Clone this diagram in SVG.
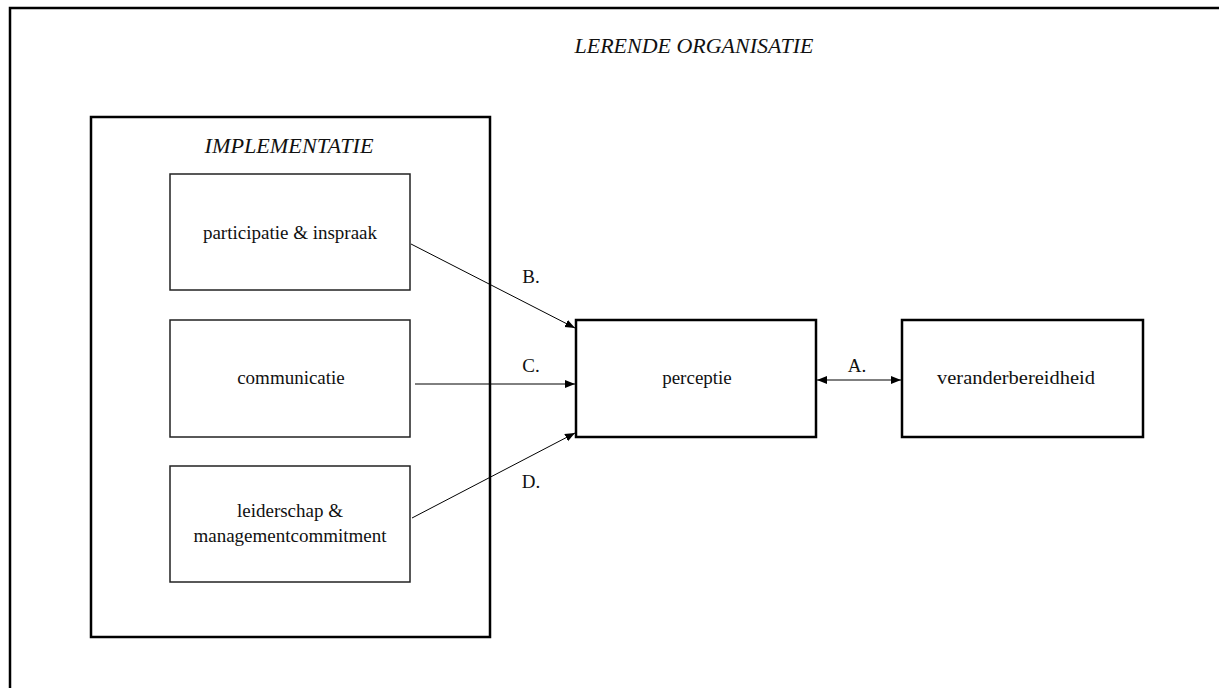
<svg xmlns="http://www.w3.org/2000/svg" width="1219" height="688" viewBox="0 0 1219 688">
<style>
.t{font-family:"Liberation Serif","Times New Roman",serif;font-size:19px;fill:#111;text-anchor:middle}
.ti{font-family:"Liberation Serif","Times New Roman",serif;font-size:21px;font-style:italic;fill:#111;text-anchor:middle}
.thick{fill:none;stroke:#000;stroke-width:2.5}
.thin{fill:none;stroke:#222;stroke-width:1.5}
.c{fill:none;stroke:#000;stroke-width:1}
</style>
<defs>
<marker id="ah" viewBox="0 0 10 10" refX="10" refY="5" markerWidth="10" markerHeight="10" markerUnits="userSpaceOnUse" orient="auto-start-reverse">
<path d="M0,1 L10,5 L0,9 Z" fill="#000"/>
</marker>
</defs>
<rect width="1219" height="688" fill="#fff"/>
<g id="lerende-organisatie">
<rect class="thick" x="10" y="8" width="1215" height="690"/>
<text class="ti" x="694" y="53" textLength="239" lengthAdjust="spacingAndGlyphs">LERENDE ORGANISATIE</text>
</g>
<g id="implementatie">
<rect class="thick" x="91" y="117" width="399" height="520"/>
<text class="ti" x="289" y="153" textLength="169" lengthAdjust="spacingAndGlyphs">IMPLEMENTATIE</text>
</g>
<g id="participatie">
<rect class="thin" x="170" y="174" width="240" height="116"/>
<text class="t" x="290" y="239">participatie &amp; inspraak</text>
</g>
<g id="communicatie">
<rect class="thin" x="170" y="320" width="240" height="117"/>
<text class="t" x="291" y="384">communicatie</text>
</g>
<g id="leiderschap">
<rect class="thin" x="170" y="466" width="240" height="116"/>
<text class="t" x="290" y="517">leiderschap &amp;</text>
<text class="t" x="290" y="542">managementcommitment</text>
</g>
<g id="perceptie">
<rect class="thick" x="576" y="320" width="240" height="117"/>
<text class="t" x="697" y="384">perceptie</text>
</g>
<g id="veranderbereidheid">
<rect class="thick" x="902" y="320" width="241" height="117"/>
<text class="t" x="1016" y="384" textLength="158" lengthAdjust="spacingAndGlyphs">veranderbereidheid</text>
</g>
<g id="connectors">
<line class="c" x1="411" y1="244" x2="575" y2="328" marker-end="url(#ah)"/>
<line class="c" x1="415" y1="384" x2="575" y2="384" marker-end="url(#ah)"/>
<line class="c" x1="412" y1="518" x2="575" y2="433" marker-end="url(#ah)"/>
<line class="c" x1="817" y1="380" x2="901" y2="380" marker-start="url(#ah)" marker-end="url(#ah)"/>
<text class="t" x="531" y="283">B.</text>
<text class="t" x="531" y="372">C.</text>
<text class="t" x="531" y="488">D.</text>
<text class="t" x="857" y="372">A.</text>
</g>
</svg>
